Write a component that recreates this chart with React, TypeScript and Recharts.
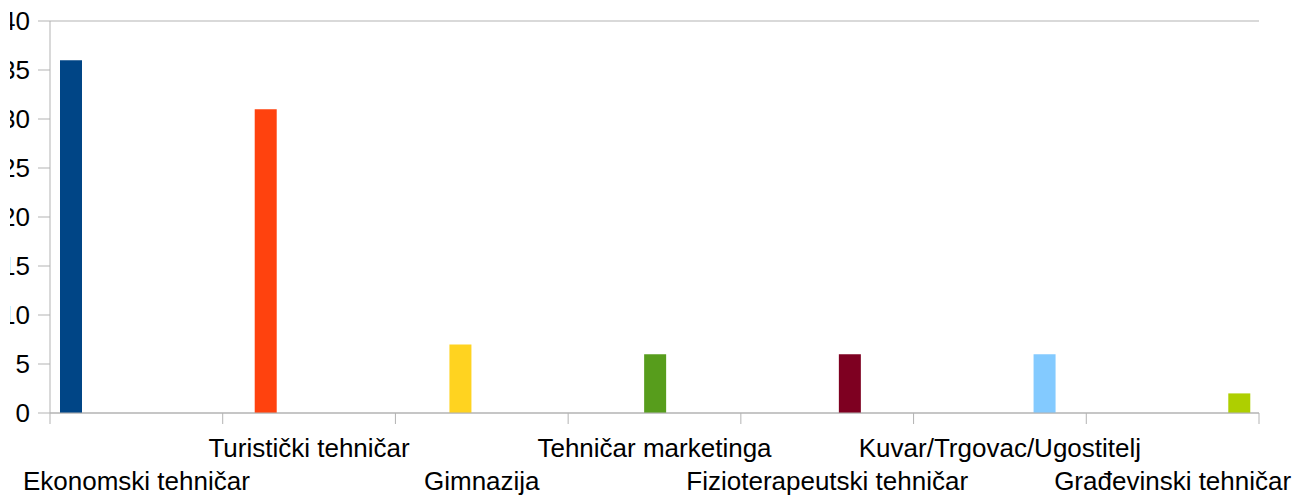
import React from "react";
import { BarChart, Bar, XAxis, YAxis, CartesianGrid } from "recharts";

const categories = [
  "Ekonomski tehničar",
  "Turistički tehničar",
  "Gimnazija",
  "Tehničar marketinga",
  "Fizioterapeutski tehničar",
  "Kuvar/Trgovac/Ugostitelj",
  "Građevinski tehničar",
];
const values = [36, 31, 7, 6, 6, 6, 2];
const colors = ["#004586", "#ff420e", "#ffd320", "#579d1c", "#7e0021", "#83caff", "#aecf00"];
const yTicks = [0, 5, 10, 15, 20, 25, 30, 35, 40];

const seriesKeys = categories.map((_, i) => `s${i}`);
const data = categories.map((name, ci) => {
  const row: Record<string, any> = { name };
  seriesKeys.forEach((k, si) => {
    row[k] = si === ci ? values[ci] : null;
  });
  return row;
});

const CHART_W = 1293;
const CHART_H = 495;
const M_TOP = 21;
const M_RIGHT = 34;
const YAXIS_W = 50;
const XAXIS_H = 82;
const PLOT_W = CHART_W - M_RIGHT - YAXIS_W;
const BAND = PLOT_W / categories.length;
const GRID = "#b3b3b3";
const FONT = "'Liberation Sans', Arial, sans-serif";
const FS = 26;

const XTick = (props: any) => {
  const { x, y, payload, index } = props;
  const half = payload && payload.offset ? payload.offset : BAND / 2;
  const row = index % 2 === 0 ? 2 : 1;
  const baseline = row === 1 ? 44 : 77;
  const isLast = index === categories.length - 1;
  return (
    <g>
      <line x1={x - half} x2={x - half} y1={y} y2={y + 11} stroke={GRID} strokeWidth={1} />
      {isLast && <line x1={x + half} x2={x + half} y1={y} y2={y + 11} stroke={GRID} strokeWidth={1} />}
      <text x={x} y={y + baseline} textAnchor="middle" fill="#000" fontSize={FS} fontFamily={FONT}>
        {payload.value}
      </text>
    </g>
  );
};

export default function App() {
  return (
    <div style={{ position: "absolute", left: 10, top: 0, width: CHART_W - 10, height: CHART_H, overflow: "hidden", background: "#fff" }}>
      <div style={{ position: "relative", left: -10, width: CHART_W, height: CHART_H }}>
        <BarChart
          width={CHART_W}
          height={CHART_H}
          data={data}
          margin={{ top: M_TOP, right: M_RIGHT, bottom: 0, left: 0 }}
          barCategoryGap={10}
          barGap={0}
        >
          <CartesianGrid vertical={false} stroke={GRID} />
          <XAxis
            dataKey="name"
            type="category"
            height={XAXIS_H}
            interval={0}
            tickLine={false}
            tickSize={0}
            tickMargin={0}
            axisLine={{ stroke: GRID }}
            tick={<XTick />}
          />
          <YAxis
            yAxisId="left"
            width={YAXIS_W}
            domain={[0, 40]}
            ticks={yTicks}
            interval={0}
            tickSize={12}
            tickMargin={8}
            axisLine={{ stroke: GRID }}
            tickLine={{ stroke: GRID }}
            tick={{ fill: "#000", fontSize: FS, fontFamily: FONT }}
          />
          <YAxis
            yAxisId="right"
            orientation="right"
            width={0}
            domain={[0, 40]}
            tick={false}
            tickLine={false}
            axisLine={{ stroke: GRID }}
          />
          {seriesKeys.map((k, i) => (
            <Bar key={k} dataKey={k} yAxisId="left" fill={colors[i]} isAnimationActive={false} />
          ))}
        </BarChart>
      </div>
    </div>
  );
}
